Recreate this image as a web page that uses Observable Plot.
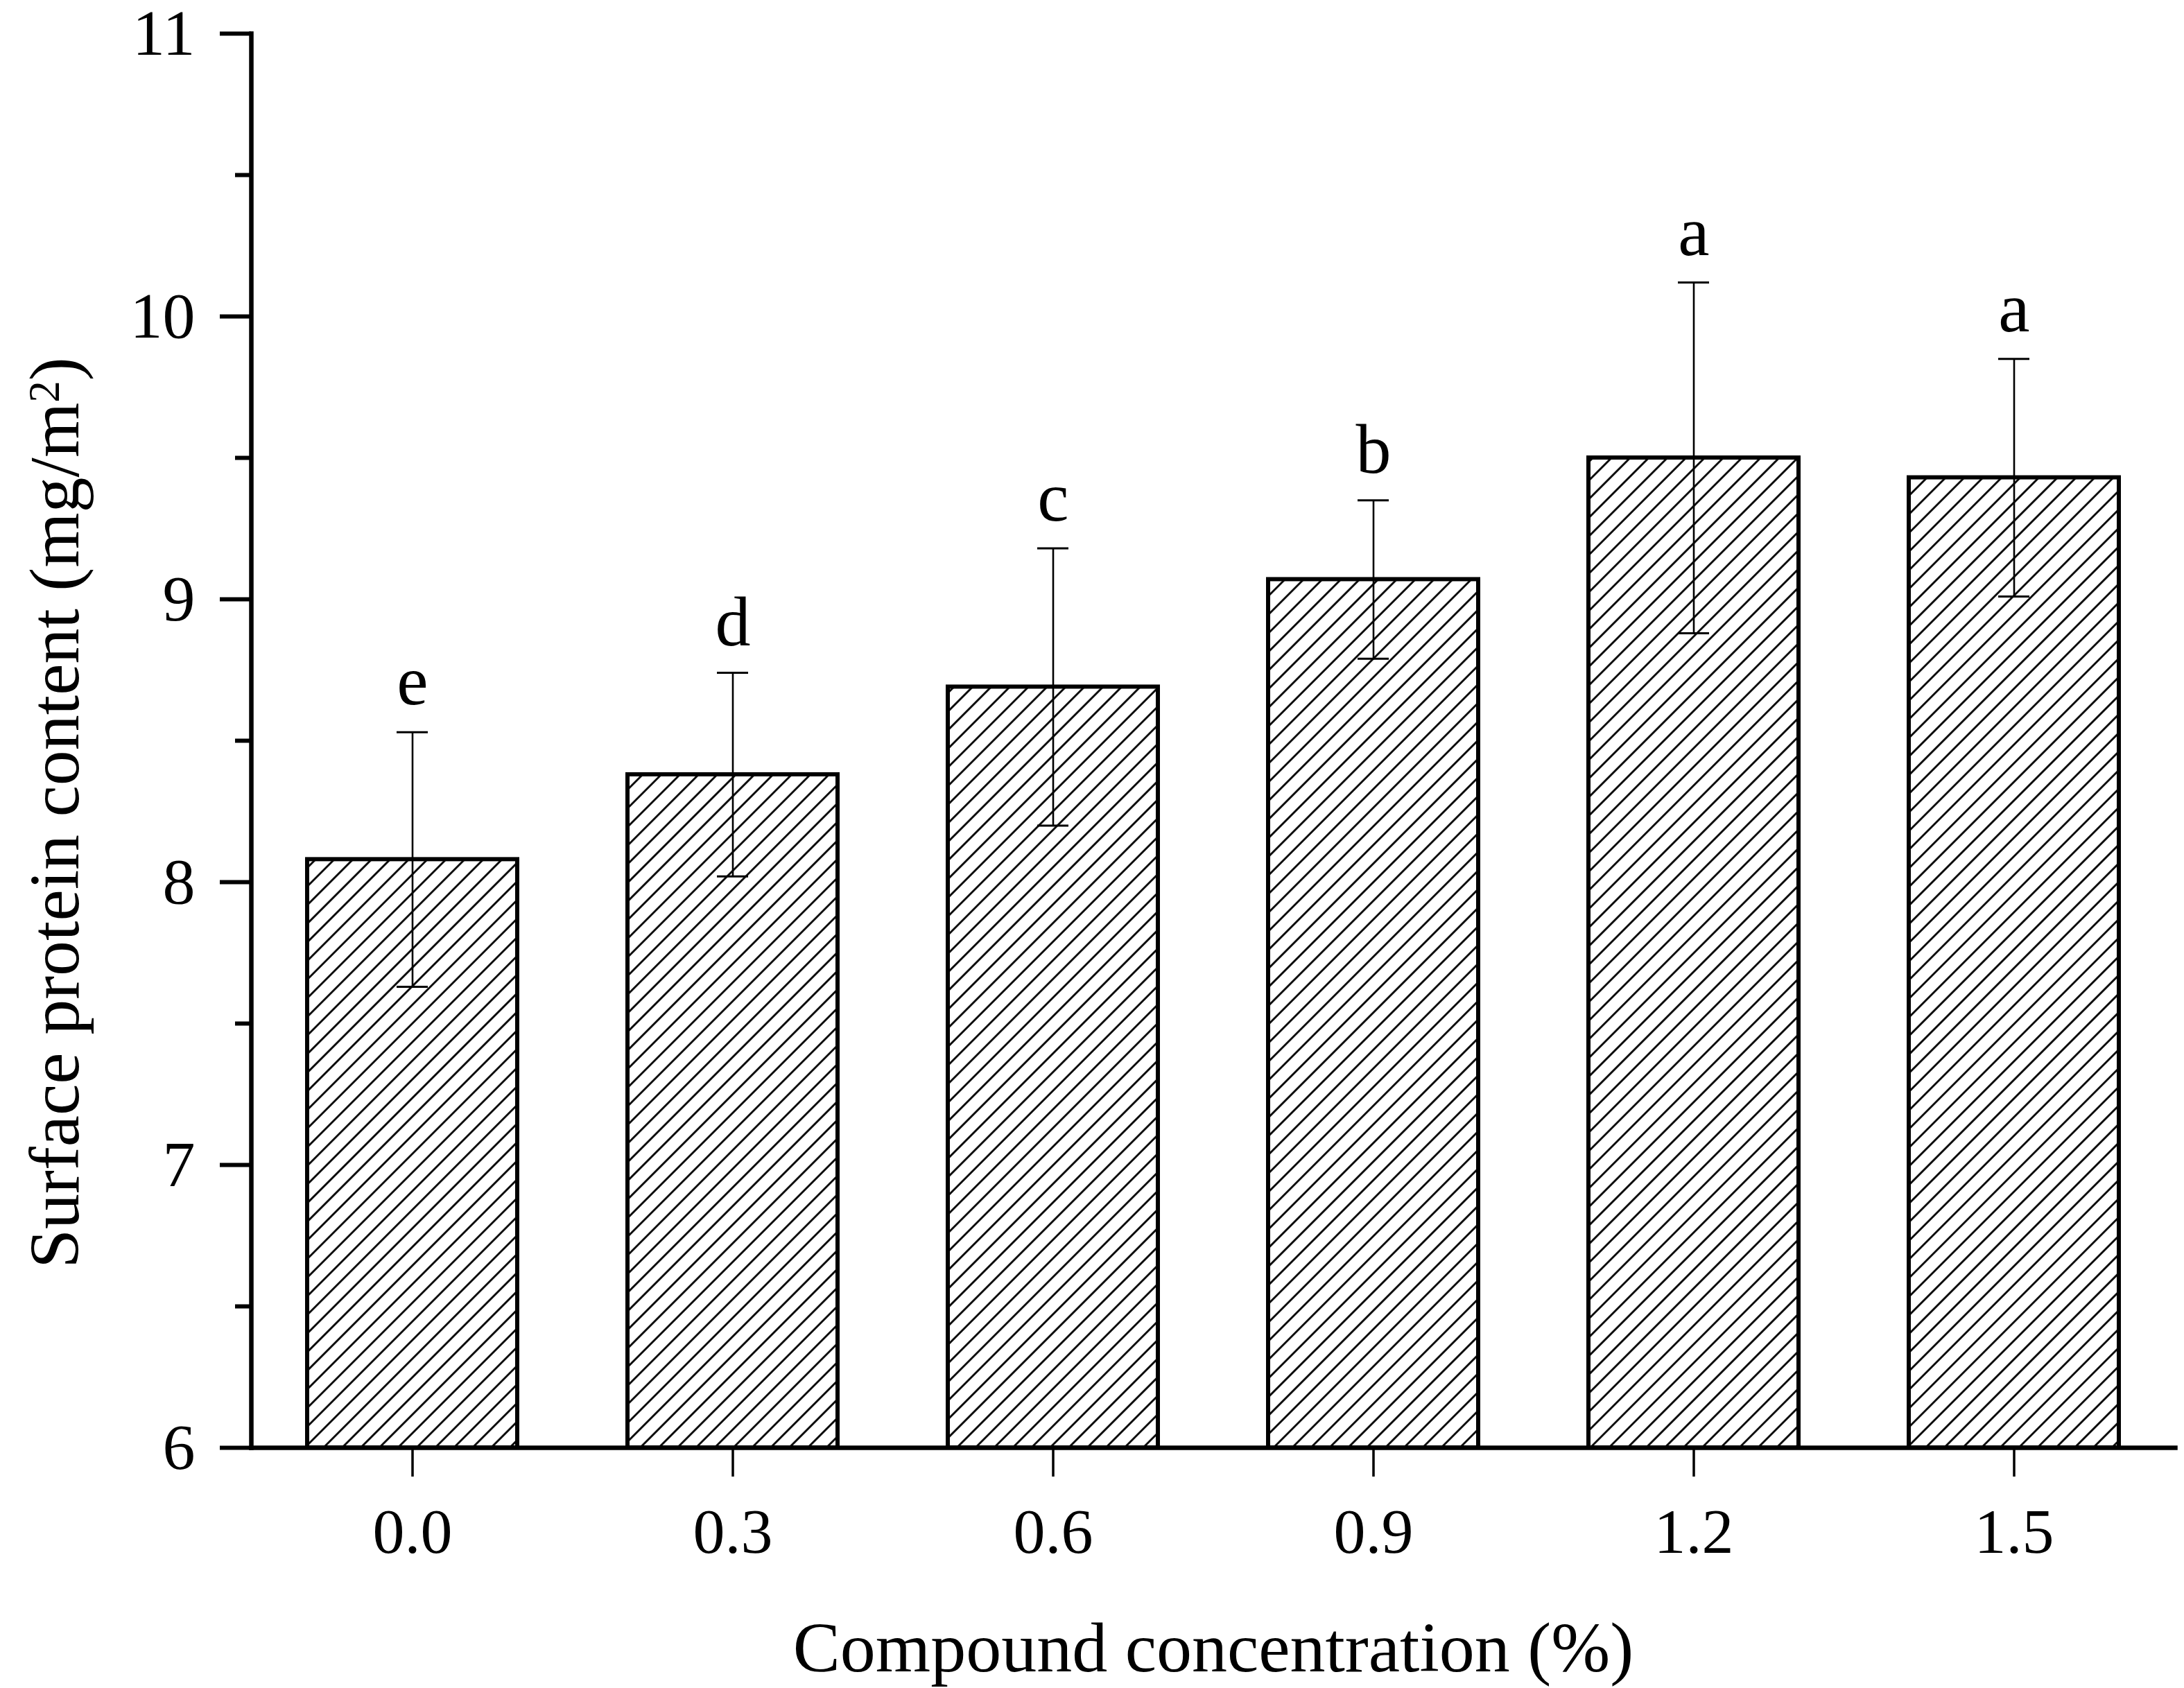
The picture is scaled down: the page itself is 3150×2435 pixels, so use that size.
<!DOCTYPE html>
<html><head><meta charset="utf-8">
<script src="https://cdn.jsdelivr.net/npm/d3@7"></script>
<script src="https://cdn.jsdelivr.net/npm/@observablehq/plot@0.6"></script>
<style>body{margin:0;background:#fff}</style>
</head><body><div id="chart"></div>
<script>
const concentrations = ["0.0", "0.3", "0.6", "0.9", "1.2", "1.5"];
const proteinMeans = [8.08, 8.38, 8.69, 9.07, 9.50, 9.43];
const proteinErrors = [0.45, 0.36, 0.49, 0.28, 0.62, 0.42];
const groupLetters = ["e", "d", "c", "b", "a", "a"];
const yMajorTicks = [6, 7, 8, 9, 10, 11];
const yMinorTicks = [6.5, 7.5, 8.5, 9.5, 10.5];
const xTitle = "Compound concentration (%)";
const yTitleMain = "Surface protein content (mg/m";
const yTitleSup = "2";
const yTitleEnd = ")";

const rows = concentrations.map((c, i) => ({
  c, v: proteinMeans[i],
  lo: proteinMeans[i] - proteinErrors[i],
  hi: proteinMeans[i] + proteinErrors[i],
  letter: groupLetters[i]
}));

const font = "'Liberation Serif','Times New Roman',serif";

const plot = Plot.plot({
  width: 3150, height: 2435,
  marginLeft: 362, marginRight: 13, marginTop: 48, marginBottom: 347,
  style: {fontFamily: font, background: "white", color: "black"},
  x: {domain: concentrations, paddingInner: 0.344, paddingOuter: 0.172, label: null},
  y: {domain: [6, 11], label: null},
  marks: [
    Plot.barY(rows, {x: "c", y1: 6, y2: "v", fill: "url(#hatch)", stroke: "black", strokeWidth: 6}),
    Plot.ruleX(rows, {x: "c", y1: "lo", y2: "hi", stroke: "black", strokeWidth: 2.6}),
    Plot.tickY(rows, {x: "c", y: "lo", stroke: "black", strokeWidth: 3, insetLeft: 129, insetRight: 129}),
    Plot.tickY(rows, {x: "c", y: "hi", stroke: "black", strokeWidth: 3, insetLeft: 129, insetRight: 129}),
    Plot.text(rows, {x: "c", y: "hi", text: "letter", dy: -40, lineAnchor: "bottom", fontSize: 102, fill: "black"}),
    Plot.axisY({ticks: yMajorTicks, tickSize: 45, tickPadding: 36, fontSize: 94, strokeWidth: 6, label: null, tickFormat: d => String(d)}),
    Plot.axisY({ticks: yMinorTicks, tickSize: 23, strokeWidth: 6, label: null, tickFormat: () => ""}),
    Plot.axisX({tickSize: 42, tickPadding: 44, fontSize: 92, strokeWidth: 3.5, label: null}),
    Plot.frame({anchor: "left", strokeWidth: 6.5}),
    Plot.frame({anchor: "bottom", strokeWidth: 6.5}),
    Plot.text([xTitle], {frameAnchor: "bottom", dy: 290, lineAnchor: "middle", textAnchor: "middle", fontSize: 102, fill: "black"}),
    Plot.text([yTitleMain + yTitleSup + yTitleEnd], {frameAnchor: "left", dx: -282, dy: 104, rotate: -90, lineAnchor: "middle", textAnchor: "middle", fontSize: 102, fill: "black"})
  ]
});

// hatch pattern definition
const ns = "http://www.w3.org/2000/svg";
const defs = document.createElementNS(ns, "defs");
const pat = document.createElementNS(ns, "pattern");
pat.setAttribute("id", "hatch");
pat.setAttribute("patternUnits", "userSpaceOnUse");
pat.setAttribute("width", "19");
pat.setAttribute("height", "19");
pat.setAttribute("patternTransform", "rotate(45)");
const bg = document.createElementNS(ns, "rect");
bg.setAttribute("width", "19"); bg.setAttribute("height", "19"); bg.setAttribute("fill", "white");
const ln = document.createElementNS(ns, "line");
ln.setAttribute("x1", "1.5"); ln.setAttribute("y1", "0"); ln.setAttribute("x2", "1.5"); ln.setAttribute("y2", "19");
ln.setAttribute("stroke", "black"); ln.setAttribute("stroke-width", "2.8");
pat.appendChild(bg); pat.appendChild(ln); defs.appendChild(pat);
plot.insertBefore(defs, plot.firstChild);

// superscript in y title
plot.querySelectorAll("text").forEach(t => {
  if (t.textContent === yTitleMain + yTitleSup + yTitleEnd) {
    t.textContent = "";
    const a = document.createElementNS(ns, "tspan"); a.textContent = yTitleMain;
    const b = document.createElementNS(ns, "tspan"); b.textContent = yTitleSup;
    b.setAttribute("dy", "-0.45em"); b.setAttribute("font-size", "62%");
    const c = document.createElementNS(ns, "tspan"); c.textContent = yTitleEnd;
    c.setAttribute("dy", "0.28em");
    t.appendChild(a); t.appendChild(b); t.appendChild(c);
  }
});

document.getElementById("chart").appendChild(plot);
</script>
</body></html>
